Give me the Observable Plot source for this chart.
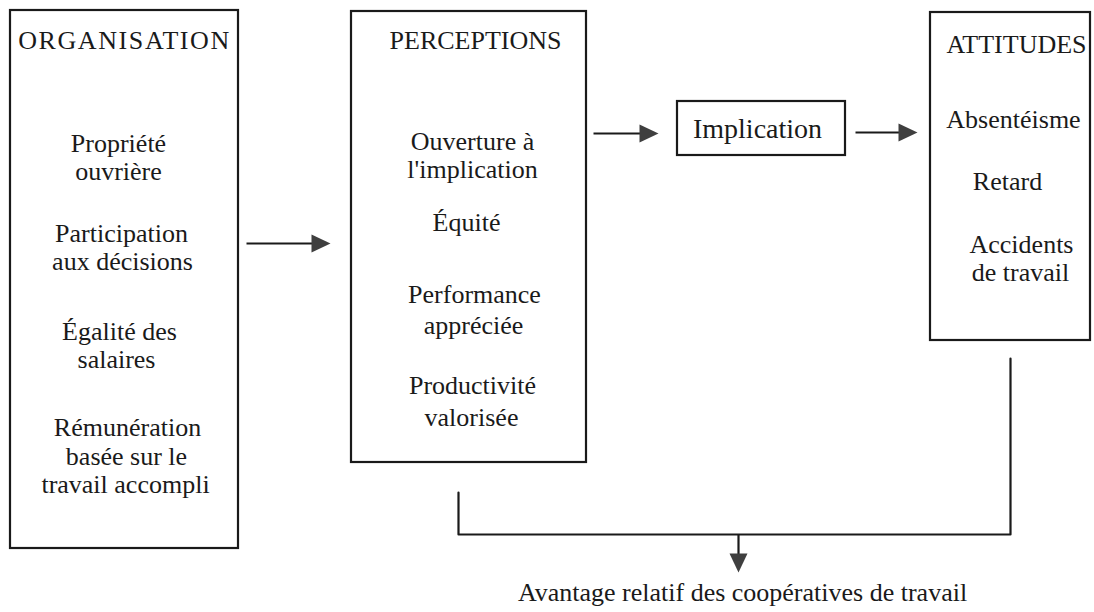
<!DOCTYPE html>
<html>
<head>
<meta charset="utf-8">
<script src="https://cdn.jsdelivr.net/npm/d3@7"></script>
<script src="https://cdn.jsdelivr.net/npm/@observablehq/plot@0.6"></script>
<style>
  html, body { margin: 0; padding: 0; background: #fff; }
  #chart { width: 1094px; height: 612px; }
</style>
</head>
<body>
<div id="chart"></div>
<script>
// ---- content (labels) ----
const boxTitles = ["ORGANISATION", "PERCEPTIONS", "ATTITUDES", "Implication"];
const organisationLines = ["Propriété", "ouvrière", "Participation", "aux décisions", "Égalité des", "salaires", "Rémunération", "basée sur le", "travail accompli"];
const perceptionLines = ["Ouverture à", "l'implication", "Équité", "Performance", "appréciée", "Productivité", "valorisée"];
const attitudeLines = ["Absentéisme", "Retard", "Accidents", "de travail"];
const outcomeLabel = ["Avantage relatif des coopératives de travail"];

// ---- layout (pixel units of the 1094x612 canvas) ----
const boxLeft = [10, 351, 930, 677];
const boxRight = [238, 586, 1090, 845];
const boxTop = [10, 11, 12, 101];
const boxBottom = [548, 462, 340, 155];
const titleX = [124, 475, 1016, 757];
const titleBase = [48, 48, 52, 137];
const titleSize = [26, 26, 26, 28];

const orgX = [118, 118, 121, 122, 119, 116, 127, 126, 125];
const orgBase = [151, 179, 241, 269, 339, 367, 435, 464, 492];
const percX = [472, 472, 466, 474, 473, 472, 471];
const percBase = [149, 177, 230, 302, 333, 393, 425];
const attX = [1013, 1007, 1021, 1020];
const attBase = [127, 189, 252, 280];
const outcomeX = [742];
const outcomeBase = [600];

// arrows: shaft start/end and head tip with direction (deg)
const shaftX1 = [246, 593, 855, 738];
const shaftY1 = [243, 133, 132, 534];
const shaftX2 = [316, 644, 903, 738];
const shaftY2 = [243, 133, 132, 560];
const tipX = [330, 658, 917, 738];
const tipY = [243, 133, 132, 572];
const tipAngle = [90, 90, 90, 180];

// bracket joining PERCEPTIONS and ATTITUDES
const bracketX = [458, 458, 1010, 1010];
const bracketY = [492, 534, 534, 358];

const ink = "#1a1a1a";
const serif = "'Liberation Serif', 'Times New Roman', Times, serif";
const baseOff = 0.32; // middle-anchored text: baseline sits 0.32em below y

const idx = (arr) => arr.map((_, i) => i);

const headSymbol = {
  draw(ctx) { ctx.moveTo(0, 0); ctx.lineTo(-9, 19); ctx.lineTo(9, 19); ctx.closePath(); }
};

function lines(labels, xs, bases, size) {
  return Plot.text(idx(labels), {
    x: i => xs[i], y: i => bases[i] - baseOff * size,
    text: i => labels[i], fontSize: size, fill: ink, textAnchor: "middle", fontFamily: serif
  });
}

const chart = Plot.plot({
  width: 1094, height: 612, margin: 0,
  x: {domain: [0, 1094], range: [0, 1094], axis: null},
  y: {domain: [0, 612], range: [0, 612], axis: null},
  style: {background: "white", fontFamily: serif, overflow: "visible"},
  marks: [
    Plot.rect(idx(boxTitles), {
      x1: i => boxLeft[i], x2: i => boxRight[i], y1: i => boxTop[i], y2: i => boxBottom[i],
      fill: "none", stroke: ink, strokeWidth: 2.2
    }),
    Plot.text(idx(boxTitles), {
      x: i => titleX[i], y: i => titleBase[i] - baseOff * titleSize[i],
      text: i => boxTitles[i], fontSize: 26, fill: ink, textAnchor: "middle", fontFamily: serif
    }),
    lines(organisationLines, orgX, orgBase, 26),
    lines(perceptionLines, percX, percBase, 26),
    lines(attitudeLines, attX, attBase, 26),
    lines(outcomeLabel, outcomeX, outcomeBase, 26),
    Plot.link(idx(shaftX1), {
      x1: i => shaftX1[i], y1: i => shaftY1[i], x2: i => shaftX2[i], y2: i => shaftY2[i],
      stroke: ink, strokeWidth: 2.2
    }),
    Plot.line(idx(bracketX), {
      x: i => bracketX[i], y: i => bracketY[i], stroke: ink, strokeWidth: 2.2, curve: "linear"
    }),
    Plot.dot(idx(tipX), {
      x: i => tipX[i], y: i => tipY[i], rotate: i => tipAngle[i],
      symbol: headSymbol, r: 6, fill: "#3f3f3f", stroke: "none"
    })
  ]
});

// per-title font sizes and the spaced-out ORGANISATION heading
d3.select(chart).selectAll("text").each(function() {
  const t = this.textContent;
  const k = boxTitles.indexOf(t);
  if (k >= 0) d3.select(this).attr("font-size", titleSize[k]);
  if (t === "ORGANISATION") d3.select(this).style("letter-spacing", "1.6px");
});

document.getElementById("chart").appendChild(chart);
</script>
</body>
</html>
